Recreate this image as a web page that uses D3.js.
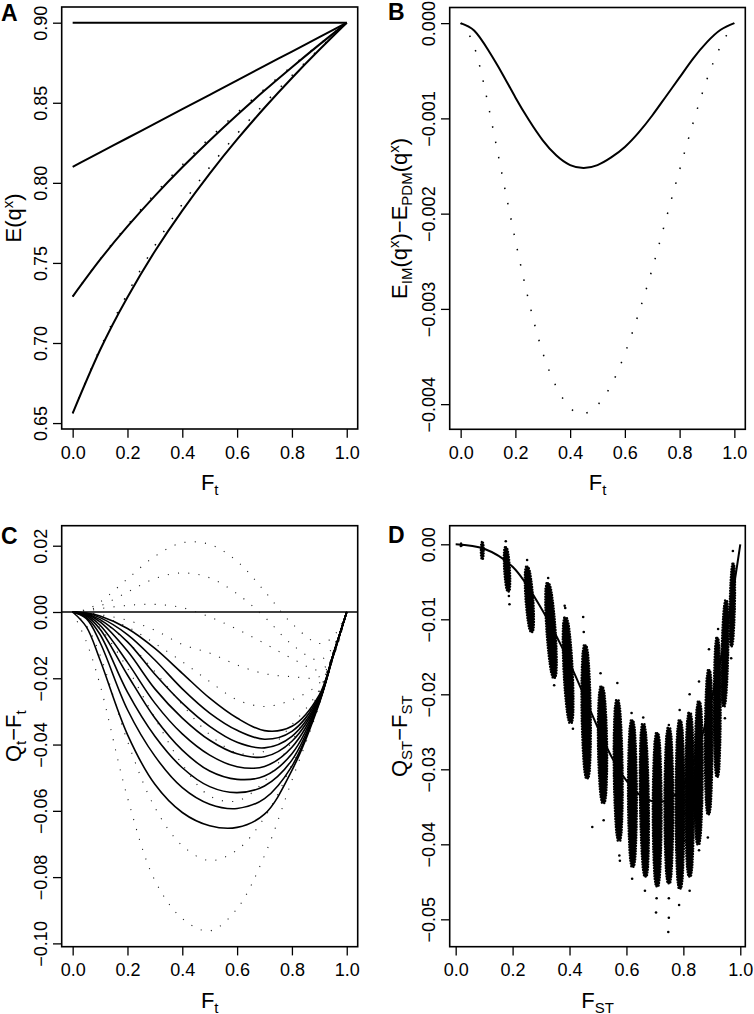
<!DOCTYPE html>
<html>
<head>
<meta charset="utf-8">
<script src="https://cdn.jsdelivr.net/npm/d3@7"></script>
<style>
  body { margin: 0; background: #fff; }
  text { font-family: "Liberation Sans", Arial, Helvetica, sans-serif; }
</style>
</head>
<body>
<div id="chart"></div>
<script>
// ---- panel A: E(q^x) against F_t ----
const aF = [0, 0.1, 0.2, 0.3, 0.4, 0.5, 0.6, 0.7, 0.8, 0.9, 1];
const aX1 = [0.9, 0.9, 0.9, 0.9, 0.9, 0.9, 0.9, 0.9, 0.9, 0.9, 0.9];
const aX2 = [0.81, 0.819, 0.828, 0.837, 0.846, 0.855, 0.864, 0.873, 0.882, 0.891, 0.9];
const aX3 = [0.729, 0.752, 0.7728, 0.7919, 0.8097, 0.8265, 0.8424, 0.8576, 0.8722, 0.8863, 0.9];
const aX4 = [0.6561, 0.6956, 0.7286, 0.7573, 0.7827, 0.8058, 0.8271, 0.8469, 0.8655, 0.8831, 0.9];
const aX3dot = [0.729, 0.7523, 0.7736, 0.7932, 0.8112, 0.828, 0.8437, 0.8586, 0.8728, 0.8865, 0.9];
const aX4dot = [0.6561, 0.6965, 0.7309, 0.7608, 0.7867, 0.8098, 0.8306, 0.8495, 0.867, 0.8837, 0.9];
const aYTicks = [0.65, 0.70, 0.75, 0.80, 0.85, 0.90];

// ---- panel B: E_IM - E_PDM ----
const bF = [0, 0.05, 0.1, 0.15, 0.2, 0.25, 0.3, 0.35, 0.4, 0.45, 0.5, 0.55, 0.6, 0.65, 0.7, 0.75, 0.8, 0.85, 0.9, 0.95, 1];
const bX3 = [0, -0.00008, -0.00028, -0.00052, -0.00078, -0.00102, -0.00123, -0.00139, -0.00149, -0.00152, -0.00149,
             -0.00141, -0.0013, -0.00115, -0.00097, -0.00077, -0.00057, -0.00037, -0.0002, -0.00007, 0];
const bX4 = [0, -0.00025, -0.00085, -0.00157, -0.00228, -0.00293, -0.00346, -0.00382, -0.00404, -0.0041, -0.00401,
             -0.0038, -0.00347, -0.00305, -0.00258, -0.00206, -0.00154, -0.00104, -0.00059, -0.00024, 0];
const bYTicks = [-0.004, -0.003, -0.002, -0.001, 0];

// ---- panel C: Q_t - F_t ----
const cF = [0, 0.05, 0.1, 0.2, 0.3, 0.4, 0.5, 0.6, 0.7, 0.8, 0.9, 0.95, 1];
const cSolid = [
  [0, -0.0003, -0.0012, -0.005, -0.011, -0.0185, -0.026, -0.032, -0.0358, -0.0345, -0.025, -0.013, 0],
  [0, -0.0004, -0.0017, -0.0068, -0.0145, -0.0232, -0.0305, -0.0357, -0.0384, -0.036, -0.0255, -0.013, 0],
  [0, -0.0005, -0.0023, -0.009, -0.0188, -0.0275, -0.0345, -0.0393, -0.041, -0.0375, -0.026, -0.013, 0],
  [0, -0.0007, -0.003, -0.0118, -0.0232, -0.032, -0.0387, -0.0428, -0.0437, -0.039, -0.0263, -0.013, 0],
  [0, -0.0009, -0.004, -0.0152, -0.0275, -0.0368, -0.0432, -0.0467, -0.0466, -0.0408, -0.0266, -0.013, 0],
  [0, -0.0012, -0.0052, -0.019, -0.032, -0.0417, -0.048, -0.0505, -0.0495, -0.0428, -0.0268, -0.0132, 0],
  [0, -0.0016, -0.0068, -0.0242, -0.0375, -0.047, -0.0527, -0.0545, -0.0525, -0.0447, -0.027, -0.0133, 0],
  [0, -0.002, -0.0092, -0.0295, -0.0435, -0.053, -0.058, -0.0593, -0.0563, -0.0465, -0.0272, -0.0134, 0],
  [0, -0.0045, -0.0145, -0.037, -0.052, -0.0605, -0.0645, -0.065, -0.061, -0.0478, -0.0275, -0.0135, 0]
];
const cDotted = [
  [0, 0.0008, 0.003, 0.01, 0.0168, 0.0209, 0.0204, 0.0153, 0.0063, -0.0035, -0.0095, -0.0075, 0],
  [0, 0.0005, 0.0018, 0.006, 0.0101, 0.0118, 0.0103, 0.0055, -0.0015, -0.0098, -0.0145, -0.0105, 0],
  [0, 0.0003, 0.001, 0.002, 0.0023, 0.0013, -0.0015, -0.0052, -0.0095, -0.014, -0.0175, -0.0135, 0],
  [0, -0.0002, -0.0008, -0.0025, -0.0055, -0.0098, -0.0124, -0.016, -0.0186, -0.0195, -0.0195, -0.0135, 0],
  [0, -0.0003, -0.0012, -0.0045, -0.0095, -0.015, -0.021, -0.0265, -0.0285, -0.0265, -0.0215, -0.0135, 0],
  [0, -0.0006, -0.0025, -0.009, -0.018, -0.028, -0.037, -0.0425, -0.042, -0.034, -0.0235, -0.013, 0],
  [0, -0.0012, -0.0048, -0.017, -0.032, -0.046, -0.0555, -0.057, -0.051, -0.039, -0.024, -0.012, 0],
  [0, -0.004, -0.013, -0.039, -0.059, -0.0705, -0.075, -0.0718, -0.062, -0.046, -0.026, -0.013, 0],
  [0, -0.009, -0.022, -0.056, -0.081, -0.0925, -0.0962, -0.0895, -0.0735, -0.0508, -0.028, -0.014, 0]
];
const cYTicks = [-0.10, -0.08, -0.06, -0.04, -0.02, 0, 0.02];

// ---- panel D: Q_ST - F_ST ----
const dF = [0, 0.1, 0.2, 0.3, 0.4, 0.5, 0.55, 0.6, 0.65, 0.7, 0.75, 0.8, 0.85, 0.9, 0.95, 1];
const dCurve = [0, -0.0006, -0.003, -0.0085, -0.0158, -0.0245, -0.0285, -0.0315, -0.0335, -0.0343, -0.034,
                -0.032, -0.0275, -0.0205, -0.0118, 0];
// replicate clouds: F_ST at top and bottom of each cloud, Q-F range, spread in F_ST
const dTopF = [0.02, 0.0935, 0.176, 0.251, 0.324, 0.386, 0.455, 0.513, 0.568, 0.62, 0.659, 0.708, 0.749, 0.788, 0.822, 0.855, 0.89, 0.919, 0.95, 0.975];
const dBotF = [0.02, 0.0935, 0.185, 0.267, 0.346, 0.404, 0.462, 0.519, 0.574, 0.622, 0.667, 0.708, 0.749, 0.788, 0.822, 0.852, 0.888, 0.919, 0.942, 0.969];
const dTopQ = [0.0001, 0.0003, -0.0004, -0.003, -0.0052, -0.0098, -0.0135, -0.019, -0.0208, -0.0235, -0.024, -0.0252, -0.0245, -0.0235, -0.0225, -0.021, -0.0168, -0.0125, -0.0075, -0.0026];
const dBotQ = [-0.0003, -0.002, -0.0063, -0.0117, -0.0178, -0.0238, -0.0312, -0.0345, -0.0395, -0.043, -0.0443, -0.0456, -0.0452, -0.0459, -0.0443, -0.04, -0.036, -0.031, -0.0216, -0.0136];
const dSpread = [0.006, 0.01, 0.02, 0.027, 0.032, 0.032, 0.032, 0.032, 0.031, 0.031, 0.031, 0.031, 0.031, 0.031, 0.031, 0.029, 0.027, 0.024, 0.023, 0.018];
const dOutF = [0.176, 0.187, 0.189, 0.251, 0.325, 0.346, 0.383, 0.385, 0.412, 0.448, 0.45, 0.48, 0.509, 0.52, 0.568, 0.575, 0.577,
               0.618, 0.62, 0.659, 0.665, 0.708, 0.706, 0.704, 0.749, 0.749, 0.749, 0.747, 0.787, 0.785, 0.822, 0.822,
               0.855, 0.855, 0.89, 0.886, 0.922, 0.946, 0.974, 0.968];
const dOutQ = [0.0004, -0.0069, -0.008, -0.0021, -0.0045, -0.0188, -0.0082, -0.0085, -0.0246, -0.0097, -0.0117, -0.0377, -0.0172, -0.0368,
               -0.0185, -0.0415, -0.0422, -0.0225, -0.0446, -0.0231, -0.0462, -0.0254, -0.0472, -0.0491, -0.0241, -0.0472, -0.0498, -0.0517,
               -0.0221, -0.0481, -0.02, -0.0462, -0.0183, -0.0408, -0.014, -0.0391, -0.0113, -0.0232, -0.0009, -0.0152];
const dYTicks = [-0.05, -0.04, -0.03, -0.02, -0.01, 0];

const xTicks = [0, 0.2, 0.4, 0.6, 0.8, 1.0];

const TICK_FS = "18px", TITLE_FS = 22, SMALL_FS = 15;

const svg = d3.select("#chart").append("svg")
  .attr("width", 754).attr("height", 1014);

function makePanel(p) {
  const g = svg.append("g");
  const x = d3.scaleLinear().domain(p.xDomain).range([p.left, p.right]);
  const y = d3.scaleLinear().domain(p.yDomain).range([p.bottom, p.top]);

  const xa = g.append("g")
    .attr("transform", `translate(0,${p.bottom})`)
    .call(d3.axisBottom(x).tickValues(xTicks).tickFormat(d3.format(".1f")).tickSize(8.7).tickSizeOuter(0));
  xa.select(".domain").remove();
  xa.attr("font-size", null).attr("font-family", null);
  xa.selectAll("line").attr("stroke-width", 1.3);
  xa.selectAll("text").attr("y", 29.5).attr("dy", null).style("font-size", TICK_FS).attr("fill", "#000");

  const ya = g.append("g")
    .attr("transform", `translate(${p.left},0)`)
    .call(d3.axisLeft(y).tickValues(p.yTicks).tickFormat(d3.format(p.yFormat)).tickSize(8.7).tickSizeOuter(0));
  ya.select(".domain").remove();
  ya.attr("font-size", null).attr("font-family", null);
  ya.selectAll("line").attr("stroke-width", 1.3);
  ya.selectAll("text")
    .attr("x", 0).attr("dy", null).attr("y", -15)
    .attr("transform", "rotate(-90)")
    .attr("text-anchor", "middle")
    .style("font-size", TICK_FS).attr("fill", "#000");

  g.append("rect")
    .attr("x", p.left).attr("y", p.top)
    .attr("width", p.right - p.left).attr("height", p.bottom - p.top)
    .attr("fill", "none").attr("stroke", "#000").attr("stroke-width", 1.6);

  // panel letter
  g.append("text").attr("x", p.letterX).attr("y", p.letterY)
    .style("font-size", "23px").style("font-weight", "bold").text(p.letter);

  // x title
  const xt = g.append("text")
    .attr("x", (p.left + p.right) / 2).attr("y", p.xTitleY)
    .attr("text-anchor", "middle").style("font-size", TITLE_FS + "px");
  addParts(xt, p.xTitle);

  // y title
  const yt = g.append("text")
    .attr("transform", `translate(${p.yTitleX},${(p.top + p.bottom) / 2}) rotate(-90)`)
    .attr("text-anchor", "middle").style("font-size", TITLE_FS + "px");
  addParts(yt, p.yTitle);

  return { g, x, y };
}

// parts: [text, kind] where kind is "sub", "sup" or ""
function addParts(t, parts) {
  let cur = 0;
  parts.forEach(([s, kind]) => {
    const target = kind === "sub" ? 5 : kind === "sup" ? -8.5 : 0;
    t.append("tspan")
      .attr("dy", target - cur)
      .style("font-size", (kind ? SMALL_FS : TITLE_FS) + "px")
      .text(s);
    cur = target;
  });
}

const FT = [["F", ""], ["t", "sub"]];

// ------- A -------
const A = makePanel({
  left: 61.7, right: 357.7, top: 7, bottom: 429,
  xDomain: [-0.04, 1.04], yDomain: [0.6463, 0.9098],
  yTicks: aYTicks, yFormat: ".2f",
  letter: "A", letterX: 1, letterY: 21,
  xTitle: FT, xTitleY: 490,
  yTitle: [["E(q", ""], ["x", "sup"], [")", ""]], yTitleX: 21
});
const aLine = d3.line().x((d, i) => A.x(aF[i])).y(d => A.y(d)).curve(d3.curveNatural);
[aX1, aX2, aX3, aX4].forEach(s => {
  A.g.append("path").attr("d", aLine(s)).attr("fill", "none")
    .attr("stroke", "#000").attr("stroke-width", 2);
});
[aX3dot, aX4dot].forEach(s => {
  A.g.append("path").attr("d", aLine(s)).attr("fill", "none")
    .attr("stroke", "#000").attr("stroke-width", 1.5).attr("stroke-dasharray", "1.5 14.1");
});

// ------- B -------
const B = makePanel({
  left: 449.7, right: 745.3, top: 7.5, bottom: 429.3,
  xDomain: [-0.04, 1.04], yDomain: [-0.004264, 0.000164],
  yTicks: bYTicks, yFormat: ".3f",
  letter: "B", letterX: 388, letterY: 19.5,
  xTitle: FT, xTitleY: 490,
  yTitle: [["E", ""], ["IM", "sub"], ["(q", ""], ["x", "sup"], [")\u2212E", ""], ["PDM", "sub"], ["(q", ""], ["x", "sup"], [")", ""]],
  yTitleX: 407
});
const bLine = d3.line().x((d, i) => B.x(bF[i])).y(d => B.y(d)).curve(d3.curveNatural);
B.g.append("path").attr("d", bLine(bX3)).attr("fill", "none")
  .attr("stroke", "#000").attr("stroke-width", 2);
B.g.append("path").attr("d", bLine(bX4)).attr("fill", "none")
  .attr("stroke", "#000").attr("stroke-width", 1.5).attr("stroke-dasharray", "1.5 14.1");

// ------- C -------
const C = makePanel({
  left: 61.7, right: 357.7, top: 525.7, bottom: 946.7,
  xDomain: [-0.04, 1.04], yDomain: [-0.101, 0.02604],
  yTicks: cYTicks, yFormat: ".2f",
  letter: "C", letterX: 1, letterY: 544,
  xTitle: FT, xTitleY: 1007.5,
  yTitle: [["Q", ""], ["t", "sub"], ["\u2212F", ""], ["t", "sub"]], yTitleX: 21
});
const cLine = d3.line().x((d, i) => C.x(cF[i])).y(d => C.y(d)).curve(d3.curveCatmullRom.alpha(0.5));
C.g.append("line")
  .attr("x1", C.x.range()[0]).attr("x2", C.x.range()[1])
  .attr("y1", C.y(0)).attr("y2", C.y(0))
  .attr("stroke", "#000").attr("stroke-width", 1.6);
cDotted.forEach(s => {
  C.g.append("path").attr("d", cLine(s)).attr("fill", "none")
    .attr("stroke", "#222").attr("stroke-width", 1.1).attr("stroke-dasharray", "1.1 9.2");
});
cSolid.forEach(s => {
  C.g.append("path").attr("d", cLine(s)).attr("fill", "none")
    .attr("stroke", "#000").attr("stroke-width", 1.6);
});

// ------- D -------
const D = makePanel({
  left: 449.7, right: 745.3, top: 525.7, bottom: 946.7,
  xDomain: [-0.021, 1.0176], yDomain: [-0.05365, 0.00248],
  yTicks: dYTicks, yFormat: ".2f",
  letter: "D", letterX: 388, letterY: 543,
  xTitle: [["F", ""], ["ST", "sub"]], xTitleY: 1007.5,
  yTitle: [["Q", ""], ["ST", "sub"], ["\u2212F", ""], ["ST", "sub"]], yTitleX: 407
});
const clouds = dTopF.map((f, i) => ({
  fTop: f, fBot: dBotF[i], qTop: dTopQ[i], qBot: dBotQ[i], spread: dSpread[i]
}));
function cloudPath(c) {
  const x0 = D.x(c.fTop), y0 = D.y(c.qTop), x1 = D.x(c.fBot), y1 = D.y(c.qBot);
  const hw = (D.x(c.spread) - D.x(0)) / 2;
  const n = 18, left = [], right = [];
  for (let k = 0; k <= n; k++) {
    const t = k / n;
    const cx = x0 + (x1 - x0) * t, cy = y0 + (y1 - y0) * t;
    const w = hw * (0.3 + 0.7 * Math.sqrt(Math.sin(Math.PI * t)));
    left.push([cx - w, cy]);
    right.push([cx + w, cy]);
  }
  return d3.line()(left.concat(right.reverse())) + "Z";
}
D.g.selectAll(".cloud").data(clouds).enter().append("path")
  .attr("class", "cloud")
  .attr("d", cloudPath)
  .attr("fill", "#000")
  .attr("stroke", "#000").attr("stroke-width", 2.4)
  .attr("stroke-linecap", "round").attr("stroke-dasharray", "0.1 2.6");
D.g.selectAll(".out").data(dOutF).enter().append("circle")
  .attr("class", "out")
  .attr("cx", d => D.x(d)).attr("cy", (d, i) => D.y(dOutQ[i]))
  .attr("r", 1.3).attr("fill", "#000");
const dLine = d3.line().x((d, i) => D.x(dF[i])).y(d => D.y(d)).curve(d3.curveCatmullRom.alpha(0.5));
D.g.append("path").attr("d", dLine(dCurve)).attr("fill", "none")
  .attr("stroke", "#000").attr("stroke-width", 2);
</script>
</body>
</html>
